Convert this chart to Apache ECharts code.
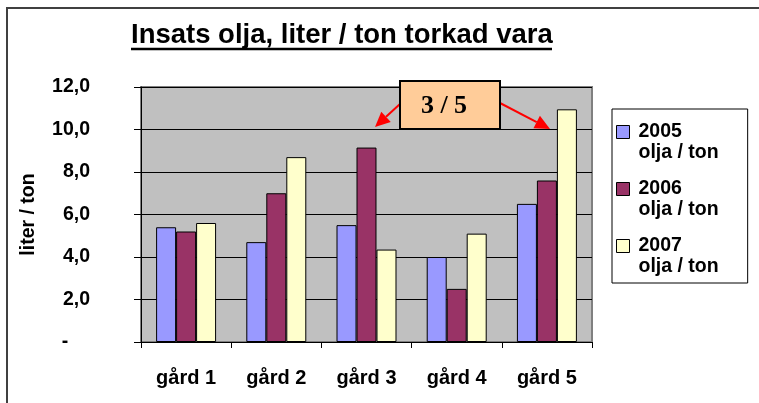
<!DOCTYPE html>
<html>
<head>
<meta charset="utf-8">
<script src="https://cdn.jsdelivr.net/npm/echarts@6/dist/echarts.min.js"></script>
<style>
html,body{margin:0;padding:0;background:#fff;}
#chart{width:759px;height:403px;}
</style>
</head>
<body>
<div id="chart"></div>
<script>
var titleText = 'Insats olja, liter / ton torkad vara';
var categories = ['gård 1', 'gård 2', 'gård 3', 'gård 4', 'gård 5'];
var seriesNames = ['2005\nolja / ton', '2006\nolja / ton', '2007\nolja / ton'];
var values2005 = [5.4, 4.7, 5.5, 4.0, 6.5];
var values2006 = [5.2, 7.0, 9.15, 2.5, 7.6];
var values2007 = [5.6, 8.7, 4.35, 5.1, 10.95];
var yAxisName = 'liter / ton';
var annotationText = '3 / 5';

var FONT = '"Liberation Sans", Arial, sans-serif';
var colors = ['#9999FF', '#993366', '#FFFFCC'];
var seriesValues = [values2005, values2006, values2007];

function arrow(x1, y1, x2, y2) {
  var dx = x2 - x1, dy = y2 - y1;
  var len = Math.sqrt(dx * dx + dy * dy);
  var ux = dx / len, uy = dy / len;
  var hl = 15, hw = 7;
  var bx = x2 - ux * hl, by = y2 - uy * hl;
  return [
    {type: 'line', shape: {x1: x1, y1: y1, x2: bx, y2: by}, style: {stroke: '#FF0000', lineWidth: 2}, z: 100},
    {type: 'polygon', shape: {points: [[x2, y2], [bx - uy * hw, by + ux * hw], [bx + uy * hw, by - ux * hw]]}, style: {fill: '#FF0000'}, z: 100}
  ];
}

var chart = echarts.init(document.getElementById('chart'), null, {renderer: 'canvas'});

var series = seriesNames.map(function (name, i) {
  return {
    name: name,
    type: 'bar',
    data: seriesValues[i],
    barGap: '0%',
    barCategoryGap: '33.5%',
    itemStyle: {color: colors[i], borderColor: '#000', borderWidth: 1},
    emphasis: {disabled: true},
    animation: false
  };
});

var graphics = [
  {type: 'polyline', shape: {points: [[7, 403], [7, 8], [759, 8]]}, style: {stroke: '#404040', lineWidth: 2, fill: null}, z: 50},
  {type: 'line', shape: {x1: 131, y1: 49, x2: 552, y2: 49}, style: {stroke: '#000', lineWidth: 2.5}, z: 50},
  {type: 'rect', shape: {x: 400, y: 81, width: 100, height: 48}, style: {fill: '#FFCC99', stroke: '#000', lineWidth: 2}, z: 101},
  {type: 'text', x: 444, y: 106, style: {text: annotationText, font: 'bold 26px "Liberation Serif", "Times New Roman", serif', fill: '#000', align: 'center', verticalAlign: 'middle'}, z: 102}
].concat(arrow(400, 104, 375, 127)).concat(arrow(500, 103, 550, 129));

chart.setOption({
  animation: false,
  title: {
    text: titleText,
    left: 131,
    top: 21,
    padding: 0,
    textStyle: {fontFamily: FONT, fontSize: 27.5, fontWeight: 'bold', color: '#000'}
  },
  legend: {
    orient: 'vertical',
    left: 612,
    top: 109,
    padding: [12, 29, 5, 4],
    itemGap: 14,
    itemWidth: 13,
    itemHeight: 42,
    icon: 'path://M0,0M0,4L13,4L13,17L0,17ZM0,42',
    borderColor: '#000',
    borderWidth: 1,
    backgroundColor: '#fff',
    selectedMode: false,
    itemStyle: {borderColor: '#000', borderWidth: 1},
    textStyle: {fontFamily: FONT, fontSize: 19.5, fontWeight: 'bold', color: '#000', lineHeight: 21, padding: [0, 0, 0, 4]},
    data: seriesNames
  },
  grid: {
    left: 141, top: 87, right: 167, bottom: 61,
    show: true,
    backgroundColor: '#C0C0C0',
    borderColor: '#808080',
    borderWidth: 2,
    containLabel: false
  },
  xAxis: {
    type: 'category',
    data: categories,
    boundaryGap: true,
    axisLine: {show: true, lineStyle: {color: '#000', width: 1}},
    axisTick: {show: true, alignWithLabel: false, length: 6, lineStyle: {color: '#000'}},
    axisLabel: {margin: 26, fontFamily: FONT, fontSize: 20, fontWeight: 'bold', color: '#000'},
    splitLine: {show: false}
  },
  yAxis: {
    type: 'value',
    min: 0, max: 12, interval: 2,
    name: yAxisName,
    nameLocation: 'middle',
    nameGap: 102,
    nameRotate: 90,
    nameTextStyle: {fontFamily: FONT, fontSize: 19.5, fontWeight: 'bold', color: '#000'},
    axisLine: {show: true, lineStyle: {color: '#000', width: 1}},
    axisTick: {show: true, length: 7, lineStyle: {color: '#000'}},
    axisLabel: {
      margin: 51, fontFamily: FONT, fontSize: 19.5, fontWeight: 'bold', color: '#000',
      formatter: function (v) { return v === 0 ? '-    ' : v.toFixed(1).replace('.', ','); }
    },
    splitLine: {show: true, lineStyle: {color: '#000', width: 1}}
  },
  series: series,
  graphic: graphics
});
</script>
</body>
</html>
